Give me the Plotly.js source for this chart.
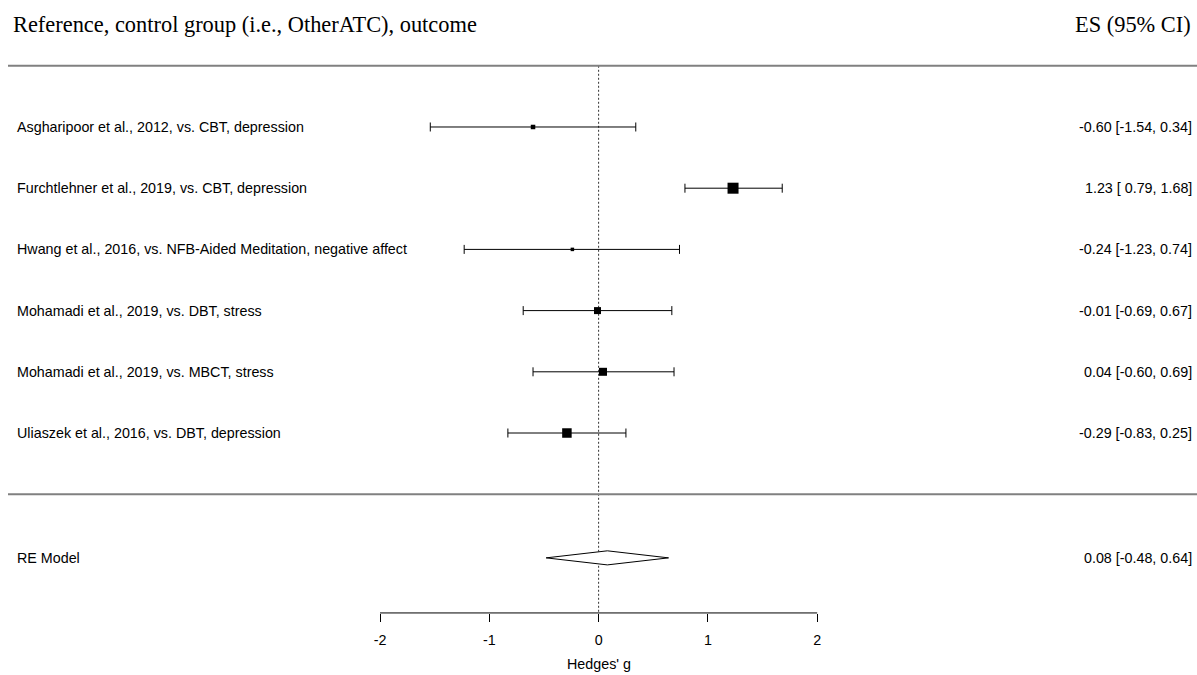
<!DOCTYPE html>
<html><head><meta charset="utf-8">
<script src="https://cdn.plot.ly/plotly-3.0.1.min.js"></script>
<style>html,body{margin:0;padding:0;background:#fff}#chart{width:1197px;height:675px}</style>
</head><body><div id="chart"></div>
<script>
const studies = [
  "Asgharipoor et al., 2012, vs. CBT, depression",
  "Furchtlehner et al., 2019, vs. CBT, depression",
  "Hwang et al., 2016, vs. NFB-Aided Meditation, negative affect",
  "Mohamadi et al., 2019, vs. DBT, stress",
  "Mohamadi et al., 2019, vs. MBCT, stress",
  "Uliaszek et al., 2016, vs. DBT, depression"
];
const es    = [-0.60, 1.23, -0.24, -0.01, 0.04, -0.29];
const lower = [-1.54, 0.79, -1.23, -0.69, -0.60, -0.83];
const upper = [ 0.34, 1.68,  0.74,  0.67,  0.69,  0.25];
const weightSize = [4.5, 11, 3.5, 7, 8, 9.5];
const reLabel = "RE Model";
const reEs = 0.08, reLower = -0.48, reUpper = 0.64;
const xTicks = [-2, -1, 0, 1, 2];
const headerLeft = "Reference, control group (i.e., OtherATC), outcome";
const headerRight = "ES (95% CI)";
const xTitle = "Hedges' g";

const rows = studies.map((s, i) => i + 1);
const reRow = 8.04, sepRow = 7, axisRow = 8.94;
const fmtE = v => v.toFixed(2);
const fmtL = v => (v < 0 ? "" : " ") + v.toFixed(2);
const ciText = (e, l, u) => fmtE(e) + " [" + fmtL(l) + ", " + fmtE(u) + "]";

const traces = [
  {
    x: es, y: rows, type: "scatter", mode: "markers",
    marker: {symbol: "square", size: weightSize, color: "#000", line: {width: 0}, opacity: 1},
    error_x: {type: "data", symmetric: false,
      array: es.map((e, i) => upper[i] - e),
      arrayminus: es.map((e, i) => e - lower[i]),
      color: "#000", thickness: 1, width: 4.5},
    hoverinfo: "skip", showlegend: false
  },
  {
    x: [reLower, reEs, reUpper, reEs, reLower],
    y: [reRow, reRow - 0.115, reRow, reRow + 0.115, reRow],
    type: "scatter", mode: "lines", fill: "toself", fillcolor: "#fff",
    line: {color: "#000", width: 1}, hoverinfo: "skip", showlegend: false
  }
];

const sans = {family: "Liberation Sans, Arial, sans-serif", size: 14.3, color: "#000"};
const serif = {family: "Liberation Serif, Cambria, serif", size: 22.4, color: "#000"};
const W = 1197, H = 675;
const annotations = [];
studies.forEach((s, i) => {
  annotations.push({x: 15/W, xref: "paper", y: rows[i], yref: "y", text: s, showarrow: false, xanchor: "left", yanchor: "middle", font: sans});
  annotations.push({x: 1194/W, xref: "paper", y: rows[i], yref: "y", text: ciText(es[i], lower[i], upper[i]), showarrow: false, xanchor: "right", yanchor: "middle", font: sans});
});
annotations.push({x: 15/W, xref: "paper", y: reRow, yref: "y", text: reLabel, showarrow: false, xanchor: "left", yanchor: "middle", font: sans});
annotations.push({x: 1194/W, xref: "paper", y: reRow, yref: "y", text: ciText(reEs, reLower, reUpper), showarrow: false, xanchor: "right", yanchor: "middle", font: sans});
annotations.push({x: 11/W, xref: "paper", y: 1 - 25/H, yref: "paper", text: headerLeft, showarrow: false, xanchor: "left", yanchor: "middle", font: serif});
annotations.push({x: 1193/W, xref: "paper", y: 1 - 25/H, yref: "paper", text: headerRight, showarrow: false, xanchor: "right", yanchor: "middle", font: serif});
annotations.push({x: 0, xref: "x", y: 1 - 664/H, yref: "paper", text: xTitle, showarrow: false, xanchor: "center", yanchor: "middle", font: sans});

const shapes = [
  {type: "line", xref: "paper", yref: "y", x0: 8/W, x1: 1, y0: 0, y1: 0, line: {color: "#808080", width: 2}},
  {type: "line", xref: "paper", yref: "y", x0: 8/W, x1: 1, y0: sepRow, y1: sepRow, line: {color: "#808080", width: 2}},
  {type: "line", xref: "x", yref: "y", x0: 0, x1: 0, y0: 0, y1: axisRow, line: {color: "#333", width: 1, dash: "2px,2px"}, layer: "below"},
  {type: "line", xref: "x", yref: "y", x0: xTicks[0], x1: xTicks[xTicks.length-1], y0: axisRow, y1: axisRow, line: {color: "#000", width: 1}}
];

const layout = {
  width: W, height: H,
  margin: {l: 0, r: 0, t: 0, b: 0, pad: 0},
  paper_bgcolor: "#fff", plot_bgcolor: "#fff",
  showlegend: false,
  xaxis: {range: [-5.477, 5.475], showgrid: false, zeroline: false, showline: false,
    tickvals: xTicks, ticktext: xTicks.map(String), ticks: "outside", ticklen: 8, tickwidth: 1, tickcolor: "#000",
    ticklabelstandoff: 6,
    tickfont: sans, anchor: "free", position: (H - 613) / H, fixedrange: true},
  yaxis: {range: [9.954, -1.075], showgrid: false, zeroline: false, showline: false, showticklabels: false, ticks: "", fixedrange: true},
  shapes: shapes,
  annotations: annotations
};
Plotly.newPlot("chart", traces, layout, {staticPlot: true, displayModeBar: false});
</script></body></html>
